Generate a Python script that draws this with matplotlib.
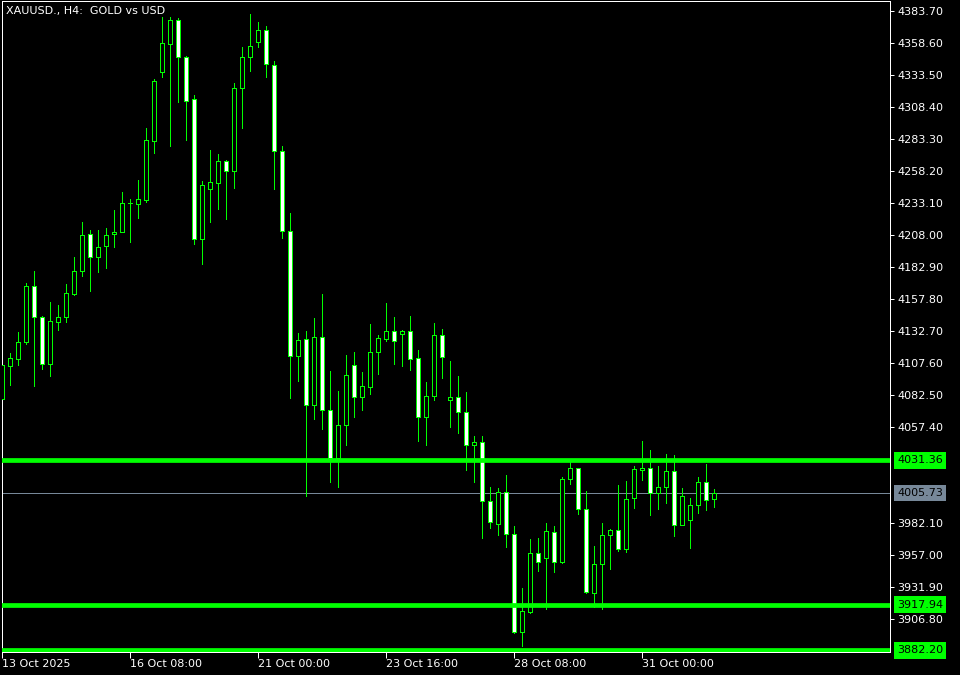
import matplotlib
matplotlib.use("Agg")
import matplotlib.pyplot as plt
import matplotlib.transforms as mtransforms
from matplotlib.patches import Rectangle

# XAUUSD H4 bars, from 13 Oct 16:00 to 3 Nov
opens = [4079.35, 4105.48, 4110.50, 4124.30, 4167.76, 4143.44, 4106.57, 4139.99, 4143.44, 4161.95,
         4179.52, 4208.55, 4190.50, 4199.13, 4208.55, 4210.11, 4232.86, 4232.55, 4235.69, 4281.97,
         4336.09, 4358.05, 4376.64, 4347.38, 4314.44, 4204.62, 4243.84, 4249.02, 4266.04, 4258.43,
         4323.54, 4347.38, 4359.15, 4368.56, 4341.11, 4273.65, 4210.90, 4112.85, 4126.18, 4074.41,
         4127.75, 4070.49, 4033.46, 4058.57, 4105.79, 4081.16, 4089.01, 4115.99, 4126.66, 4132.46,
         4130.11, 4132.46, 4111.28, 4065.00, 4081.94, 4129.32, 4078.33, 4080.69, 4068.92, 4043.04,
         4045.39, 3999.11, 3981.07, 4006.17, 3973.23, 3896.82, 3912.51, 3958.32, 3954.87, 3974.79,
         3951.73, 4016.37, 4025.00, 3992.84, 3927.42, 3949.69, 3972.44, 3976.36, 3961.46, 4001.46,
         4023.43, 4025.00, 4005.39, 4010.09, 4022.64, 3980.28, 3984.21, 3995.97, 4014.01, 4000.68]
highs = [4109.95, 4115.44, 4131.91, 4170.35, 4179.76, 4144.69, 4155.44, 4153.09, 4169.56, 4190.74,
         4218.19, 4211.92, 4211.92, 4213.49, 4227.61, 4241.73, 4236.00, 4251.14, 4291.69, 4330.36,
         4379.23, 4379.00, 4377.98, 4348.40, 4317.81, 4250.35, 4274.67, 4271.53, 4266.83, 4326.99,
         4355.46, 4381.35, 4374.84, 4371.70, 4344.25, 4277.57, 4225.02, 4130.89, 4132.46, 4142.66,
         4161.72, 4101.32, 4085.63, 4113.87, 4116.22, 4100.30, 4138.18, 4129.56, 4154.66, 4143.68,
         4133.48, 4144.46, 4117.55, 4092.45, 4138.97, 4134.26, 4109.16, 4097.40, 4084.85, 4050.33,
         4050.33, 4010.33, 4009.31, 4019.74, 3979.74, 3930.87, 3969.54, 3970.32, 3981.85, 3979.50,
         4017.94, 4029.70, 4025.00, 4006.95, 3963.82, 3981.85, 3977.15, 4011.66, 4014.80, 4026.56,
         4046.17, 4039.11, 4026.56, 4035.98, 4035.19, 4009.31, 4001.46, 4017.94, 4028.13, 4008.52]
lows = [4077.79, 4090.34, 4106.26, 4122.73, 4089.79, 4103.12, 4097.63, 4133.71, 4139.75, 4160.93,
        4175.84, 4164.30, 4179.21, 4182.35, 4198.82, 4210.11, 4202.74, 4221.57, 4234.12, 4272.55,
        4331.93, 4278.04, 4312.56, 4282.51, 4200.70, 4185.25, 4218.43, 4228.39, 4220.55, 4245.10,
        4292.16, 4336.87, 4355.70, 4332.17, 4244.31, 4205.41, 4080.37, 4093.71, 4003.50, 4063.90,
        4056.06, 4014.48, 4010.56, 4043.51, 4065.47, 4070.96, 4083.51, 4098.96, 4124.85, 4106.81,
        4105.24, 4102.10, 4046.64, 4043.51, 4078.81, 4096.06, 4057.63, 4052.92, 4023.90, 4014.48,
        3970.56, 3978.17, 3972.91, 3963.50, 3895.57, 3885.84, 3911.49, 3944.67, 3914.63, 3943.89,
        3950.95, 4012.92, 3988.91, 3926.95, 3916.43, 3914.87, 3946.24, 3959.89, 3959.58, 3994.09,
        4016.05, 3988.60, 3993.31, 3998.01, 3972.13, 3980.28, 3962.24, 3989.70, 3992.52, 3994.40]
closes = [4106.02, 4111.28, 4123.83, 4167.76, 4143.44, 4106.57, 4140.30, 4143.44, 4162.27, 4179.76,
          4207.76, 4190.50, 4198.35, 4207.76, 4210.11, 4232.86, 4233.33, 4236.00, 4282.28, 4328.56,
          4358.37, 4376.64, 4347.38, 4313.34, 4204.62, 4246.98, 4249.33, 4266.04, 4258.43, 4323.07,
          4347.38, 4356.01, 4368.56, 4341.89, 4273.65, 4210.90, 4112.85, 4125.40, 4074.41, 4127.75,
          4070.49, 4033.31, 4058.57, 4097.94, 4081.16, 4089.32, 4115.99, 4126.97, 4132.46, 4125.09,
          4132.46, 4110.97, 4065.00, 4081.47, 4129.32, 4112.06, 4080.69, 4068.92, 4043.04, 4045.39,
          3999.11, 3982.64, 4006.17, 3973.23, 3896.82, 3912.67, 3958.32, 3951.73, 3975.58, 3951.73,
          4016.37, 4025.00, 3992.84, 3928.20, 3949.69, 3972.44, 3976.36, 3961.46, 4000.68, 4024.21,
          4025.00, 4005.39, 4010.09, 4022.64, 3980.28, 4003.03, 3995.97, 4014.01, 3999.89, 4005.73]

# time axis labels (bar index -> label)
time_tick_bars = [0, 16, 32, 48, 64, 80]
time_tick_labels = ["13 Oct 2025", "16 Oct 08:00", "21 Oct 00:00",
                    "23 Oct 16:00", "28 Oct 08:00", "31 Oct 00:00"]

price_ticks = [4383.70, 4358.60, 4333.50, 4308.40, 4283.30, 4258.20, 4233.10, 4208.00,
               4182.90, 4157.80, 4132.70, 4107.60, 4082.50, 4057.40, 3982.10, 3957.00,
               3931.90, 3906.80]

# horizontal levels drawn on the chart
levels = [4031.36, 3917.94, 3882.20]
bid = 4005.73

LIME = "#00ff00"
BIDGRAY = "#778899"
PX = 0.72  # one pixel in points at 100 dpi

fig = plt.figure(figsize=(9.6, 6.75), dpi=100, facecolor="black")
ax = fig.add_axes([2 / 960, 23 / 675, 888 / 960, 651 / 675])
ax.set_facecolor("black")

# bid line sits behind the candles
ax.axhline(bid, color=BIDGRAY, lw=PX, zorder=1)

for i, (o, h, l, c) in enumerate(zip(opens, highs, lows, closes)):
    ax.vlines(i, l, h, color=LIME, lw=PX, zorder=2, antialiased=False)
    lo, hi = min(o, c), max(o, c)
    face = "black" if c >= o else "white"
    ax.add_patch(Rectangle((i - 0.25, lo), 0.5, max(hi - lo, 0.05),
                           facecolor=face, edgecolor=LIME, lw=PX, zorder=3,
                           antialiased=False))

for lvl in levels:
    ax.axhline(lvl, color=LIME, lw=3.4, zorder=5)

ax.set_xlim(-0.04, 110.96)
ax.set_ylim(3880.9, 4391.55)

# price scale on the right
ax.yaxis.tick_right()
ax.set_yticks(price_ticks)
ax.set_yticklabels([f"{v:.2f}" for v in price_ticks])
ax.tick_params(axis="y", colors="white", labelsize=8, length=3, width=PX, pad=2)

ax.set_xticks(time_tick_bars)
ax.set_xticklabels(time_tick_labels, ha="left")
ax.tick_params(axis="x", colors="white", labelsize=8, length=4, width=PX, pad=1)

for sp in ax.spines.values():
    sp.set_color("white")
    sp.set_linewidth(PX)

# boxed labels for the levels on the price scale
trans = mtransforms.blended_transform_factory(ax.transAxes, ax.transData)
for lvl in levels:
    ax.text(1.0 + 7 / 888, lvl, f"{lvl:.2f}", transform=trans, ha="left", va="center",
            fontsize=8, color="black", clip_on=False, zorder=6,
            bbox=dict(boxstyle="square,pad=0.3", fc=LIME, ec="none"))
ax.text(1.0 + 7 / 888, bid, f"{bid:.2f}", transform=trans, ha="left", va="center",
        fontsize=8, color="black", clip_on=False, zorder=6,
        bbox=dict(boxstyle="square,pad=0.3", fc=BIDGRAY, ec="none"))

fig.text(6 / 960, 1 - 11 / 675, "XAUUSD., H4:  GOLD vs USD", color="white",
         fontsize=8, va="center", ha="left")

fig.savefig("out.png", dpi=100, facecolor="black")
